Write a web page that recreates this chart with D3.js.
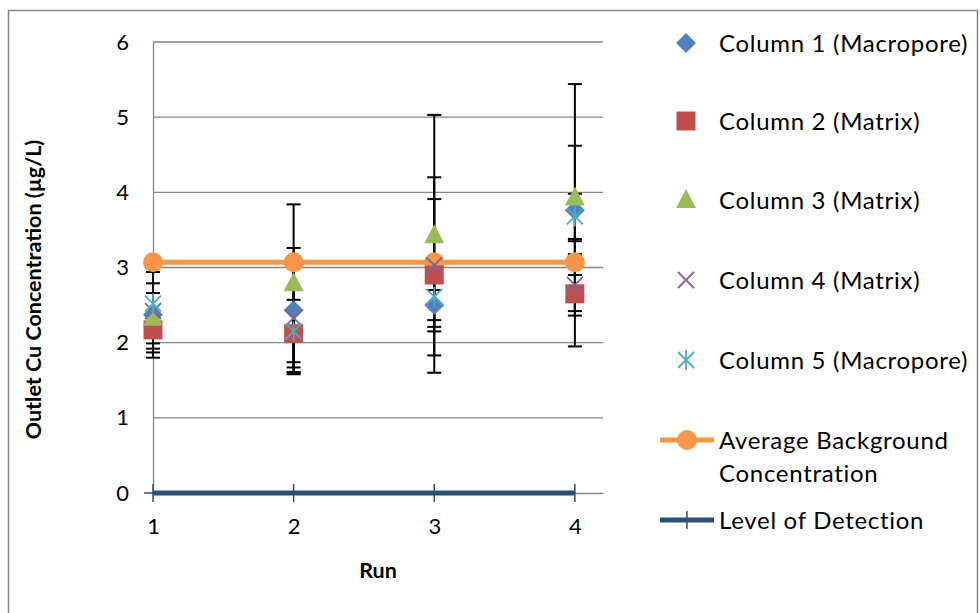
<!DOCTYPE html>
<html>
<head>
<meta charset="utf-8">
<script src="https://cdn.jsdelivr.net/npm/d3@7"></script>
<style>
  html, body { margin: 0; padding: 0; background: #fff; }
  svg { display: block; }
  text { font-family: Lato, "Open Sans", sans-serif; fill: #000; }
</style>
</head>
<body>
<svg id="chart" width="980" height="613"></svg>
<script>
// Outlet copper concentration per run, with error bars (µg/L)
const runs = [1, 2, 3, 4];
const yTicks = [0, 1, 2, 3, 4, 5, 6];

const col1 = [2.37, 2.43, 2.50, 3.76];
const col1Err = [0.57, 0.83, 0.20, 0.86];
const col2 = [2.17, 2.12, 2.90, 2.65];
const col2Err = [0.18, 0.45, 1.30, 0.70];
const col3 = [2.33, 2.79, 3.43, 3.93];
const col3Err = [0.46, 1.05, 1.60, 1.51];
const col4 = [2.42, 2.33, 3.03, 2.77];
const col4Err = [0.24, 0.72, 0.88, 0.41];
const col5 = [2.52, 2.15, 2.61, 3.68];
const col5Err = [0.60, 0.57, 0.40, 0.30];
const background = [3.07, 3.07, 3.07, 3.07];
const detection = [0, 0, 0, 0];

const seriesNames = [
  "Column 1 (Macropore)", "Column 2 (Matrix)", "Column 3 (Matrix)",
  "Column 4 (Matrix)", "Column 5 (Macropore)"
];

const series = [
  { name: seriesNames[0], values: col1, err: col1Err, color: "#4F81BD", shape: "diamond" },
  { name: seriesNames[1], values: col2, err: col2Err, color: "#C0504D", shape: "square" },
  { name: seriesNames[2], values: col3, err: col3Err, color: "#9BBB59", shape: "triangle" },
  { name: seriesNames[3], values: col4, err: col4Err, color: "#8064A2", shape: "x" },
  { name: seriesNames[4], values: col5, err: col5Err, color: "#4BACC6", shape: "star" }
];

const tickSize = "22px";
const legendSize = "24px";
const legendSpacing = "0.7px";
const titleSize = "21.5px";

const svg = d3.select("#chart");

// outer chart frame
svg.append("rect")
  .attr("x", 8.5).attr("y", 10.5)
  .attr("width", 969).attr("height", 610)
  .attr("fill", "none").attr("stroke", "#868686").attr("stroke-width", 1.5);

const x = d3.scaleLinear().domain([1, 4.2]).range([153, 603]);
const y = d3.scaleLinear().domain([0, 6]).range([493, 42]);

// horizontal gridlines
svg.append("g").selectAll("line").data(yTicks.filter(d => d > 0)).join("line")
  .attr("x1", x(1)).attr("x2", x(4.2))
  .attr("y1", d => y(d)).attr("y2", d => y(d))
  .attr("stroke", "#868686").attr("stroke-width", 1.3);

// y axis
const yAxis = svg.append("g")
  .attr("transform", `translate(${x(1)},0)`)
  .call(d3.axisLeft(y).tickValues(yTicks).tickSize(0).tickPadding(24).tickFormat(d3.format("d")));
yAxis.select(".domain").attr("stroke", "#868686").attr("stroke-width", 1.3);
yAxis.selectAll("text").style("font-size", tickSize).style("font-family", "Lato, sans-serif");

// x axis
const xAxis = svg.append("g")
  .attr("transform", `translate(0,${y(0)})`)
  .call(d3.axisBottom(x).tickValues(runs).tickSize(0).tickPadding(25).tickFormat(d3.format("d")));
xAxis.select(".domain").attr("stroke", "#868686").attr("stroke-width", 1.3);
xAxis.selectAll("text").style("font-size", tickSize).style("font-family", "Lato, sans-serif");

// axis titles
svg.append("text")
  .attr("transform", `translate(41,${(y(0) + y(6)) / 2 + 22}) rotate(-90)`)
  .attr("text-anchor", "middle")
  .style("font-size", titleSize).style("font-weight", "bold")
  .text("Outlet Cu Concentration (µg/L)");

svg.append("text")
  .attr("x", 378).attr("y", 578)
  .attr("text-anchor", "middle")
  .style("font-size", titleSize).style("font-weight", "bold")
  .text("Run");

// level of detection line with cross markers
const lodColor = "#2C4D76";
const line = d3.line().x((d, i) => x(runs[i])).y(d => y(d));
svg.append("path").datum(detection)
  .attr("d", line).attr("fill", "none")
  .attr("stroke", lodColor).attr("stroke-width", 5);
svg.append("g").selectAll("line").data(detection).join("line")
  .attr("x1", (d, i) => x(runs[i])).attr("x2", (d, i) => x(runs[i]))
  .attr("y1", d => y(d) - 9).attr("y2", d => y(d) + 9)
  .attr("stroke", lodColor).attr("stroke-width", 1.5);
svg.append("line")
  .attr("x1", x(1) - 9).attr("x2", x(1)).attr("y1", y(0)).attr("y2", y(0))
  .attr("stroke", lodColor).attr("stroke-width", 1.5);

// error bars
const capHalf = 7;
const errG = svg.append("g").attr("stroke", "#000").attr("stroke-width", 2);
series.forEach(s => {
  s.values.forEach((v, i) => {
    const cx = x(runs[i]);
    const lo = y(v - s.err[i]), hi = y(v + s.err[i]);
    errG.append("line").attr("x1", cx).attr("x2", cx).attr("y1", lo).attr("y2", hi);
    errG.append("line").attr("x1", cx - capHalf).attr("x2", cx + capHalf).attr("y1", lo).attr("y2", lo);
    errG.append("line").attr("x1", cx - capHalf).attr("x2", cx + capHalf).attr("y1", hi).attr("y2", hi);
  });
});

// average background line
const bgColor = "#F79646";
svg.append("path").datum(background)
  .attr("d", line).attr("fill", "none")
  .attr("stroke", bgColor).attr("stroke-width", 5);
svg.append("g").selectAll("circle").data(background).join("circle")
  .attr("cx", (d, i) => x(runs[i])).attr("cy", d => y(d)).attr("r", 10)
  .attr("fill", bgColor);

// marker drawing
function drawMarker(g, shape, color, cx, cy) {
  if (shape === "diamond") {
    g.append("path").attr("d", `M${cx},${cy - 10}L${cx + 10},${cy}L${cx},${cy + 10}L${cx - 10},${cy}Z`)
      .attr("fill", color);
  } else if (shape === "square") {
    g.append("rect").attr("x", cx - 9.5).attr("y", cy - 9.5).attr("width", 19).attr("height", 19)
      .attr("fill", color);
  } else if (shape === "triangle") {
    g.append("path").attr("d", `M${cx},${cy - 11}L${cx + 10},${cy + 8}L${cx - 10},${cy + 8}Z`)
      .attr("fill", color);
  } else if (shape === "x") {
    g.append("path").attr("d", `M${cx - 8},${cy - 8}L${cx + 8},${cy + 8}M${cx - 8},${cy + 8}L${cx + 8},${cy - 8}`)
      .attr("stroke", color).attr("stroke-width", 1.8).attr("fill", "none");
  } else if (shape === "star") {
    g.append("path").attr("d", `M${cx - 8},${cy - 8}L${cx + 8},${cy + 8}M${cx - 8},${cy + 8}L${cx + 8},${cy - 8}M${cx},${cy - 10}L${cx},${cy + 10}`)
      .attr("stroke", color).attr("stroke-width", 1.8).attr("fill", "none");
  }
}

const markG = svg.append("g");
series.forEach(s => {
  s.values.forEach((v, i) => drawMarker(markG, s.shape, s.color, x(runs[i]), y(v)));
});

// legend
const legend = svg.append("g")
  .style("font-size", legendSize).style("letter-spacing", legendSpacing);
const legendRows = [43, 121, 200, 280, 360];
series.forEach((s, i) => {
  drawMarker(legend, s.shape, s.color, 686, legendRows[i]);
  legend.append("text").attr("x", 719).attr("y", legendRows[i] + 9).text(s.name);
});
// background entry
legend.append("line").attr("x1", 660).attr("x2", 714).attr("y1", 440).attr("y2", 440)
  .attr("stroke", bgColor).attr("stroke-width", 5);
legend.append("circle").attr("cx", 687).attr("cy", 440).attr("r", 10).attr("fill", bgColor);
legend.append("text").attr("x", 719).attr("y", 449).text("Average Background");
legend.append("text").attr("x", 719).attr("y", 482).text("Concentration");
// detection entry
legend.append("line").attr("x1", 660).attr("x2", 714).attr("y1", 520).attr("y2", 520)
  .attr("stroke", lodColor).attr("stroke-width", 5);
legend.append("line").attr("x1", 687).attr("x2", 687).attr("y1", 511).attr("y2", 529)
  .attr("stroke", lodColor).attr("stroke-width", 1.5);
legend.append("text").attr("x", 719).attr("y", 529).text("Level of Detection");
</script>
</body>
</html>
